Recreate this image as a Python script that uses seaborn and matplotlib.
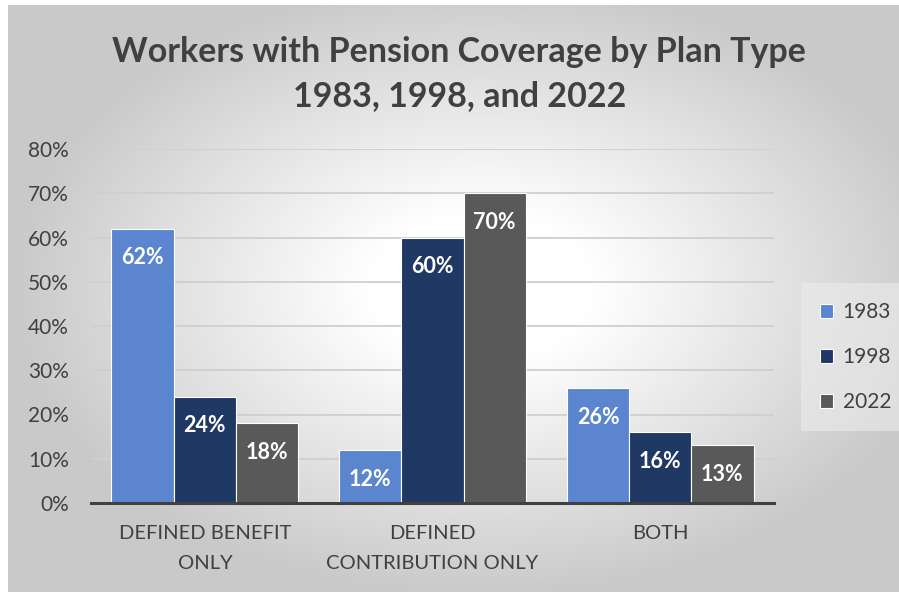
import numpy as np
import pandas as pd
import matplotlib
matplotlib.use("Agg")
import matplotlib.pyplot as plt
import seaborn as sns

# data
categories = ["DEFINED BENEFIT\nONLY", "DEFINED\nCONTRIBUTION ONLY", "BOTH"]
years = ["1983", "1998", "2022"]
share_1983 = [0.62, 0.12, 0.26]
share_1998 = [0.24, 0.60, 0.16]
share_2022 = [0.18, 0.70, 0.13]
yticks = [0, 0.1, 0.2, 0.3, 0.4, 0.5, 0.6, 0.7, 0.8]
ytick_labels = ["0%", "10%", "20%", "30%", "40%", "50%", "60%", "70%", "80%"]

colors = ["#5b86cf", "#203864", "#595959"]
text_gray = "#404040"

df = pd.DataFrame({
    "plan": categories * 3,
    "year": [y for y in years for _ in categories],
    "share": share_1983 + share_1998 + share_2022,
})

sns.set_style("white")
plt.rcParams["font.family"] = ["Lato", "DejaVu Sans"]

fig = plt.figure(figsize=(8.99, 5.92), dpi=100)

# radial gradient background of the chart box
bg = fig.add_axes([8 / 899, 0, 1 - 8 / 899, 1 - 5 / 592], zorder=-2)
H, W = 300, 450
yy, xx = np.mgrid[0:H, 0:W]
cx, cy = W * 0.53, H * 0.48
d = np.sqrt(((xx - cx) / (W / 2)) ** 2 + ((yy - cy) / (H / 2)) ** 2)
t = np.clip((d - 0.25) / 0.8, 0, 1)
v = 1 - 0.21 * t
bg.imshow(np.dstack([v, v, v]), aspect="auto", interpolation="bilinear")
bg.set_axis_off()

ax = fig.add_axes([91 / 899, 1 - 503 / 592, (774 - 91) / 899, (503 - 149) / 592])
ax.patch.set_alpha(0)

sns.barplot(data=df, x="plan", y="share", hue="year", palette=colors,
            width=0.82, edgecolor="white", linewidth=0.8, saturation=1,
            ax=ax, zorder=3)

for p in ax.patches:
    h = p.get_height()
    if h > 0:
        ax.annotate(f"{h * 100:.0f}%", (p.get_x() + p.get_width() / 2, h),
                    xytext=(0, -21), textcoords="offset points",
                    ha="center", va="center", color="white",
                    fontsize=15.5, fontweight="bold", zorder=4)

ax.set_ylim(0, 0.8)
ax.set_xlim(-0.5, 2.5)
ax.set_yticks(yticks)
ax.set_yticklabels(ytick_labels)
ax.yaxis.grid(True, color="#cfcfcf", linewidth=1.3, zorder=0)
ax.set_axisbelow(True)
ax.set_xlabel("")
ax.set_ylabel("")
for s in ["top", "right", "left"]:
    ax.spines[s].set_visible(False)
ax.spines["bottom"].set_color(text_gray)
ax.spines["bottom"].set_linewidth(2.2)
ax.spines["bottom"].set_zorder(5)
ax.tick_params(axis="y", length=0, pad=16, labelsize=15, labelcolor=text_gray)
ax.tick_params(axis="x", length=0, pad=16, labelsize=14.5, labelcolor=text_gray)
for lbl in ax.get_xticklabels():
    lbl.set_linespacing(1.9)

leg = ax.legend(loc="center left", bbox_to_anchor=(801 / 899, 1 - 357 / 592),
                bbox_transform=fig.transFigure, frameon=True, fontsize=15,
                handlelength=0.65, handleheight=0.65, handletextpad=0.45,
                labelspacing=1.2, borderpad=0.9, borderaxespad=0, fancybox=False)
leg.get_frame().set_facecolor("#ececec")
leg.get_frame().set_edgecolor("none")
leg.get_frame().set_alpha(0.6)
for txt in leg.get_texts():
    txt.set_color(text_gray)

fig.text(0.511, 1 - 74 / 592, "Workers with Pension Coverage by Plan Type\n1983, 1998, and 2022",
         ha="center", va="center", fontsize=24.5, fontweight="bold",
         color=text_gray, linespacing=1.45)

fig.savefig("out.png", dpi=100)
